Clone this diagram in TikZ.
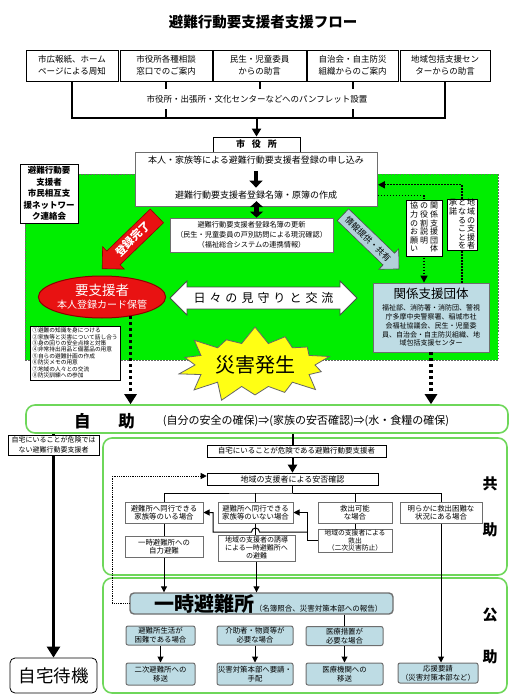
\documentclass[tikz,border=0pt]{standalone}
\usepackage{fontspec}
\setmainfont{Noto Sans CJK JP}
\usepackage{tikz}
\usetikzlibrary{positioning, arrows.meta, calc, shapes.geometric, shapes.arrows, shapes.symbols}

\definecolor{zonegreen}{RGB}{0,238,0}
\definecolor{framegreen}{RGB}{110,215,90}
\definecolor{alarmred}{RGB}{232,18,18}
\definecolor{deepred}{RGB}{140,0,0}
\definecolor{paleblue}{RGB}{190,220,228}
\definecolor{infoblue}{RGB}{178,208,218}
\definecolor{boxgray}{RGB}{110,110,110}
\definecolor{staryellow}{RGB}{255,255,20}

\newcommand{\fsz}[2]{\fontsize{#1}{#2}\selectfont\lineskiplimit=-30pt}
\makeatletter
\newcommand{\tatecol}[1]{\vtop{\offinterlineskip\@tfor\tate@c:=#1\do{\hbox to 1em{\hss\raisebox{0pt}[6.8pt][1.8pt]{\tate@c}\hss}}}}
\makeatother

\begin{document}
\begin{tikzpicture}[
    x=1pt, y=-1pt,
    every node/.style={align=center, inner sep=0pt},
    topbox/.style={draw, line width=0.8pt, minimum height=31pt, font=\fsz{8.5}{12}},
    bar/.style={line width=2pt},
    arrow/.style={-{Triangle[length=6pt, width=6pt]}, line width=1pt},
    bigarrow/.style={-{Triangle[length=8pt, width=9pt]}, line width=2pt},
    dotarrow/.style={-{Triangle[length=7pt, width=7pt]}, line width=1.4pt, dash pattern=on 1.5pt off 1.5pt},
    squaredot/.style={-{Triangle[length=10pt, width=12pt]}, line width=3.5pt, dash pattern=on 3pt off 3pt},
    kyobox/.style={draw=boxgray, line width=1pt, fill=white, font=\fsz{7.4}{8.5}},
    kobox/.style={draw=boxgray, line width=1pt, fill=paleblue, rounded corners=2pt, font=\fsz{7.4}{8.8}},
    region/.style={draw=framegreen, line width=1.6pt, rounded corners=9pt},
    sidechar/.style={font=\bfseries\fsz{15}{15}},
    tatebox/.style={draw, line width=0.6pt, fill=white, font=\fsz{8}{8.6}}
]
\useasboundingbox (0,0) rectangle (525,700);

% title and the five ways of informing
\node[font=\bfseries\fsz{14.5}{14.5}] (title) at (263,22) {避難行動要支援者支援フロー};
\node[topbox, minimum width=92pt] (t1) at (72,65.5) {市広報紙、ホーム\\ページによる周知};
\node[topbox, minimum width=92pt] (t2) at (166,65.5) {市役所各種相談\\窓口でのご案内};
\node[topbox, minimum width=93pt] (t3) at (259.5,65.5) {民生・児童委員\\からの助言};
\node[topbox, minimum width=91pt] (t4) at (352.5,65.5) {自治会・自主防災\\組織からのご案内};
\node[topbox, minimum width=90pt] (t5) at (445,65.5) {地域包括支援セン\\ターからの助言};

\draw[bar] (t1.south) -- ++(0,37) -| (t5.south);
\draw[bar] (t2.south) -- (t2.south |- 0,118);
\draw[bar] (t4.south) -- (t4.south |- 0,118);
\draw[bar] (t3.south) -- ++(0,8);
\node[fill=white, inner xsep=2pt, minimum height=20pt, font=\fsz{8.5}{10}] (pamph) at (257,99) {市役所・出張所・文化センターなどへのパンフレット設置};

% green zone
\node[fill=zonegreen, draw=black!60, line width=0.8pt, dash pattern=on 1.5pt off 1.5pt, minimum width=473pt, minimum height=186pt] (zone) at (261.5,267) {};

% city hall
\node[draw, line width=0.8pt, fill=white, minimum width=87pt, minimum height=15pt, font=\bfseries\fsz{9}{9}] (shiyakusho) at (256.5,144.5) {市\hspace{7pt}役\hspace{7pt}所};
\draw[bigarrow] (shiyakusho.north |- 0,118) -- (shiyakusho.north);
\node[draw=boxgray, line width=0.8pt, fill=white, minimum width=242pt, minimum height=54pt, below=0pt of shiyakusho] (cityhall) {};
\node[font=\fsz{9}{9}] (moushikomi) at (256,160) {本人・家族等による避難行動要支援者登録の申し込み};
\node[font=\fsz{9}{9}] (sakusei) at (256,195) {避難行動要支援者登録名簿・原簿の作成};
\draw[line width=4.5pt, -{Triangle[length=7pt, width=13pt]}] ([yshift=-7pt]moushikomi.south) -- ([yshift=3pt]sakusei.north);

\node[draw=boxgray, line width=0.8pt, fill=white, minimum width=163pt, minimum height=34pt, font=\fsz{7.2}{10.3}] (koushin) at (251.5,235) {避難行動要支援者登録名簿の更新\\（民生・児童委員の戸別訪問による現況確認）\\（福祉総合システムの連携情報）};
\draw[line width=4.5pt, {Triangle[length=6pt, width=13pt]}-{Triangle[length=6pt, width=13pt]}] ([yshift=6pt]cityhall.south) -- (cityhall.south |- koushin.north);

\node[draw, line width=0.8pt, fill=white, minimum width=58pt, minimum height=59pt, font=\bfseries\fsz{8.5}{11.4}] (renrakukai) at (49,193.5) {避難行動要\\支援者\\市民相互支\\援ネットワー\\ク連絡会};

% support groups
\node[draw=boxgray, line width=0.8pt, fill=paleblue, minimum width=116pt, minimum height=69pt, font=\fsz{7}{8.8}] (kankei) at (431,317.5) {{\fsz{12.5}{14}関係支援団体}\\[3pt]福祉部、消防署・消防団、警視\\庁多摩中央警察署、稲城市社\\会福祉協議会、民生・児童委\\員、自治会・自主防災組織、地\\域包括支援センター};
\draw[dotarrow] ([yshift=-16pt]cityhall.east) -| ([xshift=-7pt]kankei.north);
\draw[dotarrow] ([xshift=31pt]kankei.north) |- ([yshift=-5pt]cityhall.east);
\node[tatebox, minimum width=36pt, minimum height=56pt] (yakuwari) at (424,228) {\tatecol{協力のお願い}\hspace{2pt}\tatecol{の役割説明}\hspace{2pt}\tatecol{関係支援団体}};
\node[tatebox, minimum width=30pt, minimum height=50pt] (shodaku) at (462,225) {\tatecol{承諾}\hspace{1pt}\tatecol{となることを}\hspace{1pt}\tatecol{地域の支援者}};

\node[single arrow, shape border rotate=180, rotate=44, fill=alarmred, draw=deepred, line width=0.6pt, minimum height=76pt, single arrow head extend=6pt, inner sep=4pt, text=white, font=\bfseries\fsz{11}{11}] (kanryo) at (133,239) {登録完了};
\node[single arrow, rotate=-44, fill=infoblue, draw=black!70, line width=0.6pt, minimum height=78pt, single arrow head extend=6pt, inner sep=4pt, font=\fsz{8.5}{8.5}] (joho) at (368,239) {情報提供・共有};

\node[ellipse, fill=alarmred, draw=deepred, line width=1pt, minimum width=125pt, minimum height=42pt, text=white, font=\fsz{10}{13}] (yoshien) at (102,297) {{\fsz{13.5}{15}要支援者}\\本人登録カード保管};
\node[double arrow, fill=white, draw=black!70, line width=0.8pt, minimum height=187pt, double arrow head extend=6pt, inner xsep=4pt, inner ysep=5pt, font=\fsz{12}{12}] (mimamori) at (263.5,298) {日\hspace{4pt}々\hspace{4pt}の\hspace{4pt}見\hspace{4pt}守\hspace{4pt}り\hspace{4pt}と\hspace{4pt}交\hspace{4pt}流};

\node[draw, line width=0.6pt, fill=white, minimum width=90pt, minimum height=54pt, align=left, font=\fsz{5.7}{6.4}] (kokoroe) at (75,353) {①避難の知識を身につける\\②家族等と災害について話し合う\\③身の回りの安全点検と対策\\④非常持出用品と備蓄品の用意\\⑤自らの避難計画の作成\\⑥防災メモの用意\\⑦地域の人々との交流\\⑧防災訓練への参加};
\node[starburst, starburst points=14, starburst point height=18pt, random starburst=40, fill=staryellow, draw=black!60, line width=0.8pt, minimum width=156pt, minimum height=80pt, font=\fsz{20}{20}] (saigai) at (255,365) {災害発生};

% self help
\node[region, fill=white, minimum width=482pt, minimum height=28pt] (jijo) at (267,419) {};
\node[font=\bfseries\fsz{16.5}{16.5}] (jijolabel) at (104.5,421) {自\hspace{28pt}助};
\node[font=\fsz{11}{11}] (jijotext) at (306,421) {(自分の安全の確保)⇒(家族の安否確認)⇒(水・食糧の確保)};
\draw[squaredot] (yoshien.-34) -- (yoshien.-34 |- jijo.north);
\draw[squaredot] (kankei.south) -- (kankei.south |- jijo.north);

% mutual and public help
\node[region, minimum width=404pt, minimum height=137pt] (kyojo) at (305,506.5) {};
\node[region, minimum width=404pt, minimum height=115pt] (kojo) at (305,635.5) {};
\node[sidechar] (kyo) at (490,484) {共};
\node[sidechar] (kyosuke) at (490,530) {助};
\node[sidechar] (ko) at (490,615) {公};
\node[sidechar] (kosuke) at (490,657) {助};

\node[draw, line width=0.8pt, rounded corners=5pt, minimum width=87pt, minimum height=35pt, font=\fsz{17.5}{17.5}] (jitaku) at (53.5,675.5) {自宅待機};
\draw[-{Triangle[length=11pt, width=13pt]}, line width=2.5pt] (jijo.south -| jitaku.north) -- (jitaku.north);
\node[draw, line width=0.6pt, fill=white, minimum width=91pt, minimum height=20pt, font=\fsz{7}{9.5}] (anzen) at (53.5,445) {自宅にいることが危険では\\ない避難行動要支援者};

\node[draw, line width=0.6pt, fill=white, minimum width=171pt, minimum height=12pt, font=\fsz{8}{8}] (anpi) at (292.5,479) {地域の支援者による安否確認};
\draw[bigarrow] (jijo.south -| anpi.north) -- (anpi.north);
\node[draw, line width=0.6pt, fill=white, minimum width=179pt, minimum height=12pt, font=\fsz{7.5}{7.5}] (kiken) at (296.5,451) {自宅にいることが危険である避難行動要支援者};

\node[kyobox, minimum width=78pt, minimum height=21pt] (doko) at (164,512.5) {避難所へ同行できる\\家族等のいる場合};
\node[kyobox, minimum width=75pt, minimum height=21pt] (donashi) at (255.5,512.5) {避難所へ同行できる\\家族等のいない場合};
\node[kyobox, minimum width=74pt, minimum height=21pt] (kanou) at (355,512.5) {救出可能\\な場合};
\node[kyobox, minimum width=82pt, minimum height=21pt] (konnan) at (441,512.5) {明らかに救出困難な\\状況にある場合};
\node[kyobox, minimum width=78pt, minimum height=21pt] (jiryoku) at (164,546.5) {一時避難所への\\自力避難};
\node[kyobox, minimum width=77pt, minimum height=26pt, font=\fsz{7}{8}] (yudo) at (256.5,548) {地域の支援者の誘導\\による一時避難所へ\\の避難};
\node[kyobox, minimum width=74pt, minimum height=23pt, font=\fsz{6.8}{7.2}] (kyushutsu) at (355,540.5) {地域の支援者による\\救出\\（二次災害防止）};

\coordinate (bunki) at (anpi.south |- 0,493);
\draw[line width=1pt] (anpi.south) -- (bunki);
\draw[line width=1pt] (doko.north) |- (bunki) -| (kanou.north);
\draw[line width=1pt] (donashi.north) -- (donashi.north |- bunki);
\draw[line width=1pt] (bunki) -| (konnan.north);
\draw[line width=1pt] (doko.south) -- (jiryoku.north);
\draw[line width=1pt] (donashi.south) -- (donashi.south |- yudo.north);
\draw[line width=1pt] (kanou.south) -- (kyushutsu.north);
\draw[arrow] (kyushutsu.west) -- ++(-10,0) |- (donashi.east);
\draw[arrow] ($(kyushutsu.west)+(-10,-8.5)$) -- ($(donashi.south |- 0,532)+(4,0)$) arc (0:-180:4) -- (213,532) |- (doko.east);

% temporary shelter
\node[draw=boxgray, line width=1.4pt, fill=paleblue, rounded corners=4pt, minimum width=263pt, minimum height=21pt] (ichiji) at (261.5,603.5) {\hspace{14pt}{\bfseries\fsz{20}{20}一時避難所}{\fsz{7.5}{7.5}（名簿照合、災害対策本部への報告）}};
\draw[-{Triangle[length=6pt, width=6pt]}, line width=0.8pt, densely dotted] (ichiji.west) -- ++(-17,0) |- ([yshift=3pt]anpi.west);
\draw[arrow] (jiryoku.south) -- (jiryoku.south |- ichiji.north);
\draw[arrow] (yudo.south) -- (yudo.south |- ichiji.north);

\node[kobox, minimum width=69pt, minimum height=19pt] (seikatsu) at (160.5,635.5) {避難所生活が\\困難である場合};
\node[kobox, minimum width=76pt, minimum height=19pt] (busshi) at (255,635.5) {介助者・物資等が\\必要な場合};
\node[kobox, minimum width=77pt, minimum height=19pt] (iryo) at (344.5,636) {医療措置が\\必要な場合};
\node[kobox, minimum width=69pt, minimum height=22pt] (niji) at (160.5,674) {二次避難所への\\移送};
\node[kobox, minimum width=76pt, minimum height=22pt] (taisaku) at (255,674) {災害対策本部へ要請・\\手配};
\node[kobox, minimum width=77pt, minimum height=22pt] (kikan) at (344.5,674) {医療機関への\\移送};
\node[kobox, minimum width=80pt, minimum height=20pt] (outen) at (438,673) {応援要請\\（災害対策本部など）};

\draw[arrow] (seikatsu) -- (niji);
\draw[arrow] (busshi) -- (taisaku);
\draw[arrow] (iryo) -- (kikan);
\draw[line width=1pt] (ichiji.south -| iryo.north) -- (iryo.north);
\draw[arrow] (konnan.south) -- (konnan.south |- outen.north);
\end{tikzpicture}
\end{document}
